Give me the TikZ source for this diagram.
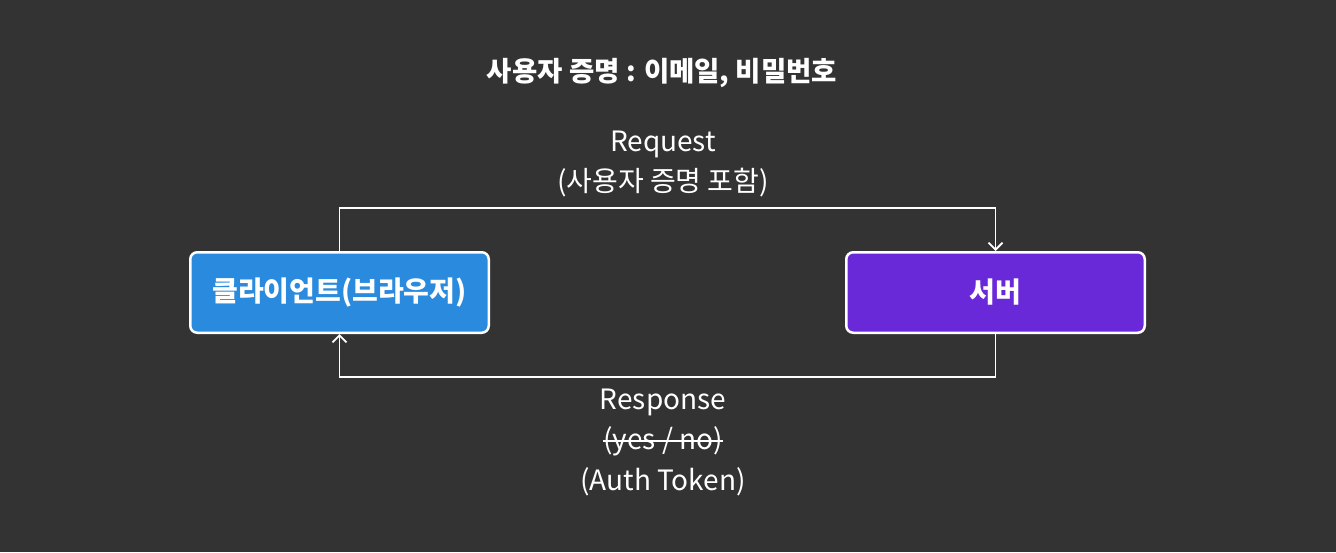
\documentclass[tikz,border=0pt]{standalone}
\usepackage{fontspec}
\setmainfont{Noto Sans CJK KR}
\usetikzlibrary{positioning,arrows.meta}
\definecolor{bgcol}{RGB}{51,51,51}
\definecolor{clientblue}{RGB}{42,138,222}
\definecolor{serverpurple}{RGB}{106,41,216}
\newcommand{\strikeline}[1]{\setbox0\hbox{#1}\leavevmode\rlap{\rule[0.27em]{\wd0}{1.5pt}}\box0}
\tikzset{
  box/.style={draw=white,line width=2.5pt,rounded corners=7pt,minimum width=298.5pt,minimum height=80.5pt,text=white,font=\fontsize{28}{32}\selectfont\bfseries},
  flow/.style={white,line width=1.8pt,-{Straight Barb[length=7pt,width=14pt]}},
  lbl/.style={text=white,align=center,font=\fontsize{28}{40.5}\selectfont},
}

\begin{document}
\begin{tikzpicture}[x=1pt,y=-1pt]
    \fill[bgcol] (0,0) rectangle (1336,552);
    \useasboundingbox (0,0) rectangle (1336,552);

    \node[lbl,font=\fontsize{27.5}{32}\selectfont\bfseries] (title) at (662,73) {사용자 증명 : 이메일, 비밀번호};

    \node[box,fill=clientblue] (client) at (339.5,292.5) {클라이언트(브라우저)};
    \node[box,fill=serverpurple,right=355pt of client] (server) {서버};

    \coordinate (req) at (668,208);
    \coordinate (res) at (668,377);

    \node[lbl] (reqlbl) at (663,164) {Request\\(사용자 증명 포함)};
    \node[lbl] (reslbl) at (663,442) {Response\\\strikeline{(yes / no)}\\(Auth Token)};

    \draw[flow] (client.north) -- (client.north |- req) -| (server.north);
    \draw[flow] (server.south) -- (server.south |- res) -| (client.south);
\end{tikzpicture}
\end{document}
